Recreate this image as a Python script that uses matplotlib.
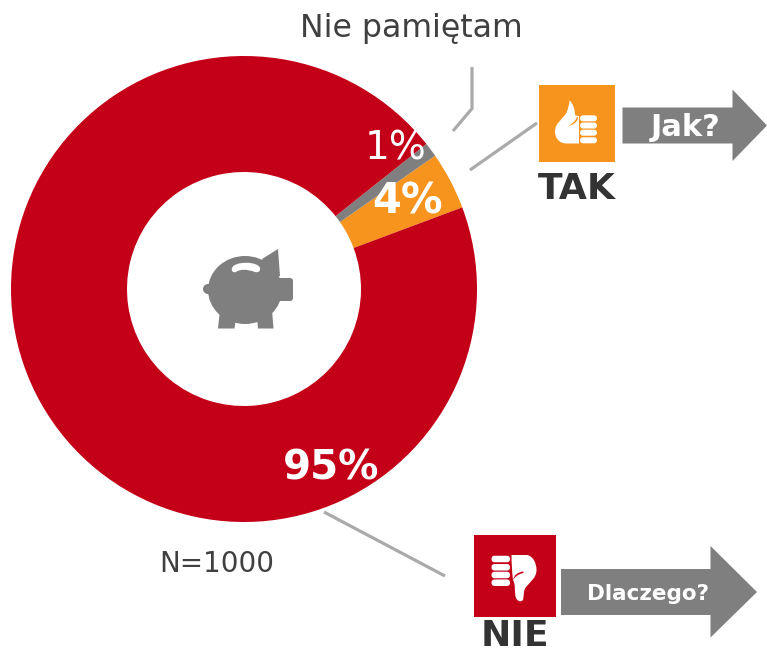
import matplotlib
matplotlib.use('Agg')
import matplotlib.pyplot as plt
from matplotlib.patches import Polygon, Circle, Ellipse, FancyBboxPatch, Rectangle, PathPatch, Wedge
from matplotlib.path import Path

W, H = 767, 653

# answers, counter-clockwise from the start of the orange slice
answers = ['TAK', 'Nie pamiętam', 'NIE']
shares = [4, 1, 95]
share_labels = ['4%', '1%', '95%']
sample_label = 'N=1000'

RED = '#c40018'
ORANGE = '#f7941e'
GREY = '#7f7f7f'
LINE = '#aaaaaa'
DARK = '#333333'

fig = plt.figure(figsize=(W / 100, H / 100), dpi=100)
ax = fig.add_axes([0, 0, 1, 1])


def p(x, y):
    # picture pixels (y down) to axes data
    return (x, H - y)


def poly(points, color, z=5):
    ax.add_patch(Polygon([p(*q) for q in points], closed=True, fc=color, ec='none', zorder=z))


def line(points, color=LINE, lw=2.3, z=4):
    ax.plot([q[0] for q in points], [H - q[1] for q in points], color=color, lw=lw,
            solid_capstyle='butt', solid_joinstyle='miter', zorder=z)


def curve(points, color, z=6):
    # first point then triples of cubic bezier controls
    codes = [Path.MOVETO] + [Path.CURVE4] * (len(points) - 1)
    ax.add_patch(PathPatch(Path([p(*q) for q in points], codes), fc=color, ec='none', zorder=z))


def bar(x0, x1, yc, h, color, z=7):
    ax.add_patch(FancyBboxPatch((x0 + h / 2, H - yc - 0.01), x1 - x0 - h, 0.02,
                                boxstyle='round,pad=%f,rounding_size=%f' % (h / 2, h / 2),
                                fc=color, ec='none', zorder=z))


# donut
ax.pie(shares, colors=[ORANGE, GREY, RED], startangle=20.5, counterclock=True,
       radius=233, center=p(244, 289), wedgeprops={'width': 116, 'linewidth': 0})
# agg leaves a hairline in the long red wedge, cover it from behind
ax.add_patch(Wedge(p(244, 289), 232, 120, 140, width=114, fc=RED, ec='none', zorder=0))
ax.set_xlim(0, W)
ax.set_ylim(0, H)
ax.set_aspect('auto')
ax.axis('off')

# leader lines
line([(472, 67), (472, 108.5), (453, 131)])
line([(470, 170), (537, 123)])
line([(324, 512), (445, 576)])

# piggy bank
ax.add_patch(Ellipse(p(245, 290), 74, 68, fc=GREY, ec='none', zorder=5))
poly([(262, 259), (278, 249), (280, 276), (272, 280)], GREY)
ax.add_patch(FancyBboxPatch(p(276, 301), 17, 23, boxstyle='round,pad=0,rounding_size=3',
                            fc=GREY, ec='none', zorder=5))
ax.add_patch(Circle(p(208, 289), 5, fc=GREY, ec='none', zorder=5))
poly([(220, 310), (236, 318), (234.5, 328.5), (218, 328.5)], GREY)
poly([(257, 318), (272, 310), (273.5, 328.5), (258, 328.5)], GREY)
curve([(232, 268), (234, 261), (258, 261), (260, 268), (261, 271), (258, 273), (255, 272),
       (247, 269), (240, 269), (236, 272), (233, 273), (231, 271), (232, 268)], 'white')

# TAK side
ax.add_patch(Rectangle(p(538.5, 161.5), 76.5, 76.5, fc=ORANGE, ec='none', zorder=5))
curve([(569.5, 100.5), (573, 103), (575, 110), (575, 115), (577, 116), (578, 116), (579, 116),
       (579, 125), (579, 135), (579, 143.5), (575, 143.5), (571, 143.5), (567, 143.5),
       (559, 143.5), (555, 138), (555, 131.5), (555, 124), (561, 120), (565, 115),
       (568, 111), (569, 105), (569.5, 100.5)], 'white')
curve([(577, 116.5), (576, 121), (572, 124), (568, 126), (572, 125.5), (577, 123), (578, 118),
       (578, 118), (578, 117), (577, 116.5)], ORANGE, z=7)
for yc in [118.3, 125.5, 132.7, 140.3]:
    bar(580, 597, yc, 6, 'white')

poly([(622.5, 107.5), (732.5, 107.5), (732.5, 89.5), (767, 125.5), (732.5, 161),
      (732.5, 143.5), (622.5, 143.5)], GREY)

# NIE side
ax.add_patch(Rectangle(p(474, 617), 82, 82, fc=RED, ec='none', zorder=5))
curve([(511.5, 555), (517, 555), (522, 555), (527, 555), (533, 556), (536.5, 563), (536.5, 570),
       (536.5, 578), (530, 582), (526, 587), (523, 591), (524, 596), (523, 600),
       (521, 602), (518, 602), (516, 598), (514, 592), (516, 585), (513, 580),
       (512, 572), (511.5, 563), (511.5, 555)], 'white')
curve([(523.5, 571.5), (518, 572), (514, 575), (513, 580), (515, 577), (518, 574), (523.5, 573),
       (523.5, 572.5), (523.5, 572), (523.5, 571.5)], RED, z=7)
for yc in [559, 567.3, 575, 582.7]:
    bar(491.5, 510, yc, 6.5, 'white')

poly([(561, 569), (710.5, 569), (710.5, 546), (757, 592), (710.5, 637.5),
      (710.5, 615), (561, 615)], GREY)


def label(x, y, s, size, color, bold=False):
    ax.text(x, H - y, s, fontsize=size, color=color, ha='center', va='center',
            fontweight='bold' if bold else 'normal', zorder=10, family='DejaVu Sans')


label(411, 29, answers[1], 22.7, '#404040')
label(396, 148, share_labels[1], 28, 'white')
label(408, 201, share_labels[0], 30, 'white', True)
label(331, 468, share_labels[2], 29, 'white', True)
label(217, 563.5, sample_label, 20, '#404040')
label(577, 189, answers[0], 26, DARK, True)
label(515, 636.5, answers[2], 26, DARK, True)
label(686, 128, 'Jak?', 22, 'white', True)
label(648, 593.5, 'Dlaczego?', 15.5, 'white', True)

fig.savefig('out.png', dpi=100)
plt.close()
